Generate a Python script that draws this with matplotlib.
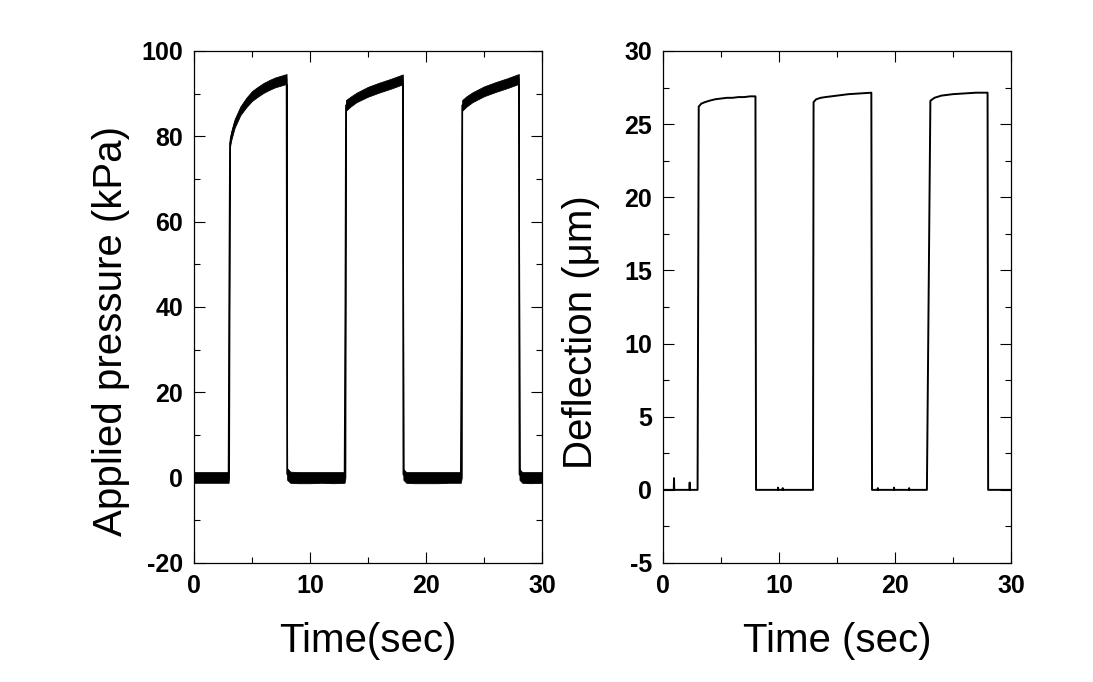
import numpy as np
import matplotlib
matplotlib.use("Agg")
import matplotlib.pyplot as plt
from matplotlib.ticker import MultipleLocator

plt.rcParams["axes.unicode_minus"] = False

# ---------------- Data ----------------
# Applied pressure: envelope of the noisy trace (upper / lower), kPa
p_time = [0.0, 1.0, 2.0, 2.98,
          3.02, 3.1, 3.2, 3.5, 4.0, 4.5, 5.0, 5.5, 6.0, 6.5, 7.0, 7.5, 7.98,
          8.03, 8.3, 9.0, 10.0, 11.0, 12.0, 12.98,
          13.05, 13.1, 13.5, 14.0, 15.0, 16.0, 17.0, 17.5, 18.0,
          18.05, 18.3, 19.0, 20.0, 21.0, 22.0, 23.0,
          23.08, 23.12, 23.5, 24.0, 25.0, 26.0, 27.0, 27.5, 28.0,
          28.06, 28.3, 29.0, 30.0]
p_upper = [1.3, 1.3, 1.3, 1.3,
           60.0, 79.0, 81.0, 84.0, 87.0, 89.0, 90.6, 91.6, 92.5, 93.2, 93.8, 94.2, 94.6,
           2.2, 1.4, 1.3, 1.3, 1.3, 1.3, 1.3,
           80.0, 88.5, 89.3, 90.2, 91.6, 92.6, 93.5, 94.0, 94.5,
           2.0, 1.3, 1.3, 1.3, 1.3, 1.3, 1.3,
           80.0, 88.5, 89.4, 90.3, 91.7, 92.7, 93.6, 94.1, 94.6,
           2.0, 1.3, 1.3, 1.3]
p_lower = [-1.2, -1.2, -1.2, -1.2,
           0.0, 77.5, 79.0, 82.0, 85.0, 86.8, 88.3, 89.3, 90.2, 90.9, 91.5, 91.9, 92.3,
           -0.5, -1.2, -1.3, -1.3, -1.2, -1.3, -1.2,
           0.0, 86.0, 87.0, 88.0, 89.3, 90.3, 91.2, 91.7, 92.2,
           -0.5, -1.2, -1.3, -1.3, -1.3, -1.2, -1.2,
           0.0, 86.0, 87.0, 88.0, 89.4, 90.4, 91.3, 91.8, 92.3,
           -0.5, -1.2, -1.3, -1.2]

# Deflection trace, micrometres
d_time = [0.0, 0.93, 0.95, 0.97, 2.28, 2.30, 2.32, 2.98,
          3.08, 3.3, 3.6, 4.0, 4.5, 5.0, 5.5, 6.0, 6.5, 7.0, 7.5, 7.97,
          8.02, 9.9, 9.92, 9.94, 10.3, 10.32, 10.34, 12.93,
          12.98, 13.2, 13.6, 14.0, 15.0, 16.0, 17.0, 17.96,
          18.02, 18.5, 18.52, 18.54, 19.9, 19.92, 19.94, 21.2, 21.22, 21.24, 22.75,
          23.05, 23.4, 24.0, 25.0, 26.0, 27.0, 27.98,
          28.03, 30.0]
d_value = [0.0, 0.0, 0.8, 0.0, 0.0, 0.5, 0.0, 0.0,
           26.2, 26.4, 26.5, 26.6, 26.7, 26.75, 26.8, 26.8, 26.85, 26.85, 26.9, 26.9,
           0.0, 0.0, 0.15, 0.0, 0.0, 0.12, 0.0, 0.0,
           26.5, 26.7, 26.8, 26.85, 26.95, 27.05, 27.1, 27.15,
           0.0, 0.0, 0.12, 0.0, 0.0, 0.15, 0.0, 0.0, 0.12, 0.0, 0.0,
           26.6, 26.8, 26.95, 27.05, 27.1, 27.15, 27.15,
           0.0, 0.0]

# ---------------- Figure ----------------
W, H = 1093, 682
fig = plt.figure(figsize=(W / 100, H / 100), dpi=100)

tick_font = dict(family="Liberation Sans", weight="bold", size=18)
label_font = dict(family="Liberation Sans", size=29)

ax1 = fig.add_axes([194 / W, 1 - 563 / H, 348 / W, 512 / H])
ax2 = fig.add_axes([663 / W, 1 - 563 / H, 348 / W, 512 / H])

# Left: applied pressure
p_mid = [(a + b) / 2 for a, b in zip(p_upper, p_lower)]
ax1.fill_between(p_time, p_lower, p_upper, color="black", lw=0.6)
ax1.plot(p_time, p_mid, color="black", lw=1.2)
ax1.set_xlim(0, 30)
ax1.set_ylim(-20, 100)
ax1.xaxis.set_major_locator(MultipleLocator(10))
ax1.xaxis.set_minor_locator(MultipleLocator(5))
ax1.yaxis.set_major_locator(MultipleLocator(20))
ax1.yaxis.set_minor_locator(MultipleLocator(10))
ax1.set_xlabel("Time(sec)", **label_font)
ax1.set_ylabel("Applied pressure (kPa)", **label_font)

# Right: deflection
ax2.plot(d_time, d_value, color="black", lw=1.4)
ax2.set_xlim(0, 30)
ax2.set_ylim(-5, 30)
ax2.xaxis.set_major_locator(MultipleLocator(10))
ax2.xaxis.set_minor_locator(MultipleLocator(5))
ax2.yaxis.set_major_locator(MultipleLocator(5))
ax2.yaxis.set_minor_locator(MultipleLocator(2.5))
ax2.set_xlabel("Time (sec)", **label_font)
ax2.set_ylabel("Deflection (\u03bcm)", **label_font)

for ax in (ax1, ax2):
    for s in ax.spines.values():
        s.set_linewidth(0.9)
    ax.tick_params(which="both", direction="in", top=True, right=True,
                   width=0.8, pad=8)
    ax.tick_params(which="major", length=8)
    ax.tick_params(which="minor", length=4.5)
    for lab in ax.get_xticklabels() + ax.get_yticklabels():
        lab.set_fontproperties(matplotlib.font_manager.FontProperties(**tick_font))
    ax.xaxis.set_label_coords(0.5, -0.115)

ax1.yaxis.set_label_coords(-0.184, 0.453)
ax2.yaxis.set_label_coords(-0.181, 0.45)

fig.savefig("out.png", dpi=100, facecolor="white")
